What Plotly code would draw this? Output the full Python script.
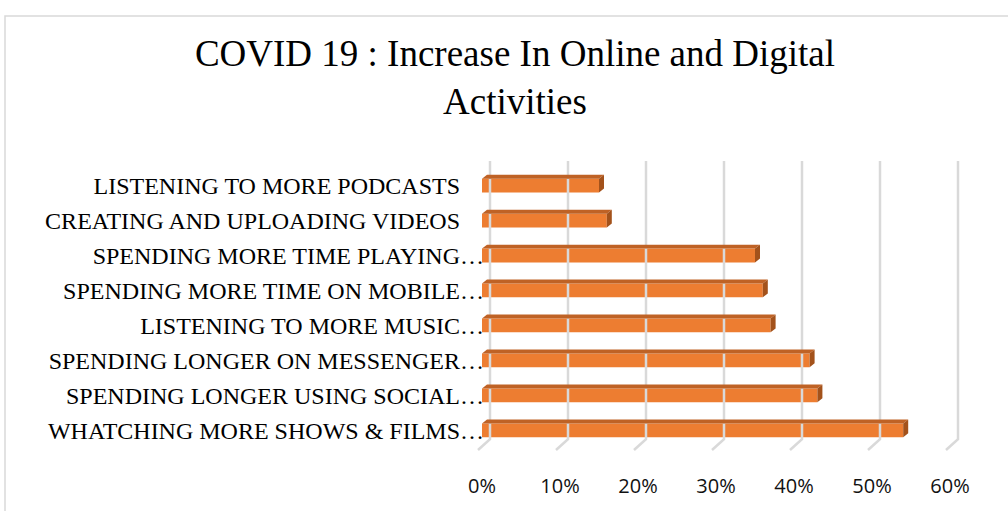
import plotly.graph_objects as go

# ---- data (bottom to top) ----
categories = [
    "WHATCHING MORE SHOWS & FILMS…",
    "SPENDING LONGER USING SOCIAL…",
    "SPENDING LONGER ON MESSENGER…",
    "LISTENING TO MORE MUSIC…",
    "SPENDING MORE TIME ON MOBILE…",
    "SPENDING MORE TIME PLAYING…",
    "CREATING AND UPLOADING VIDEOS\u00a0\u00a0\u00a0\u00a0",
    "LISTENING TO MORE PODCASTS\u00a0\u00a0\u00a0\u00a0",
]
values = [54, 43, 42, 37, 36, 35, 16, 15]
tick_values = [0, 10, 20, 30, 40, 50, 60]
title_text = "COVID 19 : Increase In Online and Digital<br>Activities"

# ---- geometry/style ----
W, H = 1008, 511
L, R = 470, 975          # plot area px
T, B = 156, 456
px_per_x = 7.8           # px per percent
px_per_y = 35.43         # px per category
x0_px = 482
y0_px = 434
xr = [(L - x0_px) / px_per_x, (R - x0_px) / px_per_x]
yr = [-(B - y0_px) / px_per_y, (y0_px - T) / px_per_y]

bar_h = 0.395
dx = 5 / px_per_x        # depth offset in x
dy = 4 / px_per_y        # depth offset in y
grid_back_dx = 8 / px_per_x
grid_front_dx = -4 / px_per_x
grid_top = (y0_px - 161) / px_per_y
grid_bot = (y0_px - 443) / px_per_y
floor_front = (y0_px - 454) / px_per_y

front_col = "#ED7D31"
top_col = "#BF6225"
side_col = "#A3521B"
grid_col = "#D9D9D9"

ypos = list(range(len(categories)))

fig = go.Figure()

# gridlines (back wall + floor)
gx, gy = [], []
for t in tick_values:
    gx += [t + grid_back_dx, t + grid_back_dx, t + grid_front_dx, None]
    gy += [grid_top, grid_bot, floor_front, None]
fig.add_trace(go.Scatter(x=gx, y=gy, mode="lines",
                         line=dict(color=grid_col, width=2.5),
                         hoverinfo="skip", showlegend=False))

# front faces
fig.add_trace(go.Bar(x=values, y=ypos, orientation="h", width=bar_h,
                     marker=dict(color=front_col, line=dict(width=0)),
                     hoverinfo="skip", showlegend=False))

# top faces
tx, ty = [], []
for v, y in zip(values, ypos):
    yt = y + bar_h / 2
    tx += [0, v, v + dx, dx, 0, None]
    ty += [yt, yt, yt + dy, yt + dy, yt, None]
fig.add_trace(go.Scatter(x=tx, y=ty, mode="lines", fill="toself",
                         fillcolor=top_col, line=dict(width=0, color=top_col),
                         hoverinfo="skip", showlegend=False))

# side faces
sx, sy = [], []
for v, y in zip(values, ypos):
    yt = y + bar_h / 2
    yb = y - bar_h / 2
    sx += [v, v, v + dx, v + dx, v, None]
    sy += [yb, yt, yt + dy, yb + dy, yb, None]
fig.add_trace(go.Scatter(x=sx, y=sy, mode="lines", fill="toself",
                         fillcolor=side_col, line=dict(width=0, color=side_col),
                         hoverinfo="skip", showlegend=False))

plot_w = R - L
plot_h = B - T
fig.update_layout(
    width=W, height=H,
    margin=dict(l=L, r=W - R, t=T, b=H - B, pad=0),
    paper_bgcolor="white", plot_bgcolor="white",
    title=dict(text=title_text, x=515 / W, xanchor="center",
               y=1 - 66 / H, yanchor="top", yref="container",
               font=dict(family="Liberation Serif", size=37, color="#000")),
    xaxis=dict(range=xr, domain=[0, 1], showgrid=False, zeroline=False,
               showline=False, tickvals=tick_values,
               ticktext=[f"{t}%" for t in tick_values],
               ticks="outside", ticklen=16, tickcolor="rgba(0,0,0,0)",
               tickfont=dict(family="Open Sans", size=20, color="#111")),
    yaxis=dict(range=yr, showgrid=False, zeroline=False, showline=False,
               tickvals=ypos, ticktext=categories, anchor="free",
               position=(484 - L) / plot_w, ticks="",
               tickfont=dict(family="Liberation Serif", size=24, color="#000")),
    shapes=[dict(type="rect", xref="paper", yref="paper",
                 x0=(5 - L) / plot_w, x1=(1012 - L) / plot_w,
                 y0=(B - 520) / plot_h, y1=(B - 14) / plot_h,
                 line=dict(color="#D9D9D9", width=1.5), layer="below")],
)

fig.write_html("out.html")
